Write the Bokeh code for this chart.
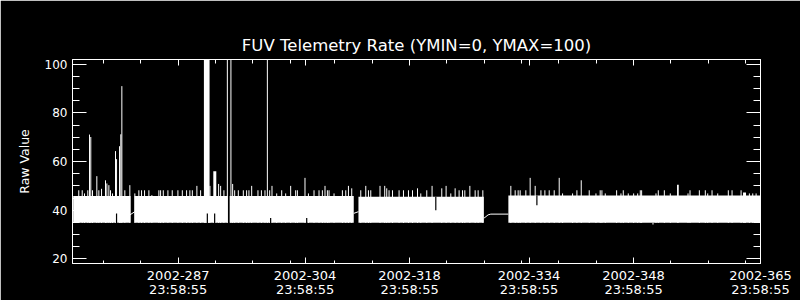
from bokeh.plotting import figure
from bokeh.models import Range1d, FixedTicker, LinearAxis
from bokeh.embed import file_html
from bokeh.resources import INLINE

# ---------------- data (x = day of year 2002, y = raw value) ----------------
BASE = 34.8

# continuous stretches of dense telemetry (filled band from BASE to plateau)
seg_start = [272.94, 281.16, 293.90, 311.15, 331.23]
seg_end = [280.63, 293.63, 310.52, 327.94, 365.00]
seg_top = [45.8, 45.8, 45.8, 45.5, 46.0]

# individual samples sticking out above the band
spike_day = [
    273.69, 274.15, 274.46, 274.90, 275.13, 275.30, 275.53, 276.11, 276.38, 276.74,
    277.27, 277.45, 277.72, 277.94, 278.21, 278.61, 278.75, 279.15, 279.32, 279.46,
    279.86, 280.53,
    281.20, 281.74, 282.10, 282.50, 283.08, 283.48, 284.42, 284.65, 285.01, 285.63,
    286.21, 286.97, 287.56, 288.13, 288.57, 288.90, 289.51, 290.01, 291.26, 292.42,
    292.69, 293.13, 293.59,
    294.07, 294.30, 294.57, 295.06, 295.73, 296.17, 296.48, 296.85, 297.69, 298.15,
    298.63, 298.95, 299.26, 299.57, 300.20, 300.87, 301.40, 302.07, 302.74, 302.97,
    303.99, 304.45, 305.20, 305.87, 306.32, 306.67, 306.99, 307.21, 307.88, 309.00,
    309.45, 309.81, 310.25,
    311.46, 312.13, 312.49, 312.80, 314.04, 314.67, 314.94, 315.25, 315.71, 316.59,
    317.18, 317.85, 318.39, 319.06, 319.50, 320.30, 321.01, 322.31, 322.89, 323.52,
    324.10, 324.63, 325.09, 325.40, 326.07, 326.78, 327.18, 327.81,
    331.56, 332.14, 332.54, 332.81, 333.57, 334.15, 334.82, 335.59, 336.12, 336.70,
    337.37, 338.04, 338.49, 339.83, 340.41, 340.99, 342.06, 342.96, 343.53, 343.76,
    344.21, 345.73, 346.31, 346.62, 347.29, 348.01, 348.55, 348.90, 349.08, 351.00,
    351.31, 352.12, 352.92, 355.29, 355.56, 356.81, 357.61, 357.93, 358.51, 359.27,
    360.69, 361.19, 362.40, 363.51, 363.96, 364.41,
]
spike_val = [
    48.2, 48.2, 46.9, 48.2, 71.1, 70.1, 48.2, 54.0, 48.2, 48.8,
    52.3, 51.0, 50.3, 48.2, 46.9, 64.3, 61.0, 66.3, 71.2, 91.0,
    48.2, 50.3,
    46.9, 48.2, 48.2, 48.2, 48.2, 46.2, 48.2, 48.2, 48.2, 48.2,
    48.2, 48.2, 48.2, 48.2, 48.2, 48.2, 50.0, 48.2, 50.0, 50.8,
    50.0, 48.2, 105.0,
    105.0, 50.8, 48.2, 48.2, 48.2, 48.2, 48.2, 50.0, 48.2, 48.2,
    48.2, 105.0, 48.2, 50.0, 46.9, 48.2, 46.9, 50.0, 48.2, 48.2,
    53.3, 46.9, 48.2, 48.2, 48.2, 50.0, 48.2, 48.2, 46.9, 48.2,
    48.2, 50.0, 49.0,
    48.2, 50.0, 48.2, 48.2, 50.0, 50.0, 49.0, 48.2, 48.2, 48.2,
    48.2, 48.2, 48.2, 49.0, 46.9, 48.2, 50.0, 49.0, 50.0, 46.9,
    49.0, 48.2, 48.2, 48.2, 50.0, 48.2, 48.2, 48.2,
    50.0, 48.2, 48.2, 48.2, 48.2, 53.3, 50.0, 48.2, 48.2, 48.2,
    48.2, 53.3, 46.9, 46.9, 48.2, 52.3, 48.2, 46.9, 48.2, 48.2,
    46.9, 48.2, 46.9, 48.2, 46.9, 46.9, 46.9, 48.2, 48.2, 46.9,
    48.2, 48.2, 46.9, 46.9, 48.2, 48.2, 48.2, 46.9, 48.2, 46.9,
    48.2, 48.2, 48.2, 46.9, 46.9, 46.9,
]

# wider runs of high samples
block_start = [290.45, 291.71, 353.82, 362.66]
block_end = [291.21, 292.11, 354.05, 363.06]
block_val = [105.0, 56.0, 50.5, 47.3]

# columns whose minimum stays above the band floor
low_day = [278.75, 290.91, 291.89, 299.39, 304.22]
low_val = [38.7, 38.7, 38.7, 36.8, 36.8]

# columns whose maximum drops well below the band top
dip_day = [321.51, 335.05]
dip_val = [40.0, 42.0]
dip_top = [45.5, 46.0]

# single sample below the floor
under_day = [350.60]
under_val = [34.1]

# sparse samples inside data gaps
gap1_day = [280.50, 281.20]
gap1_val = [38.0, 39.4]
gap2_day = [310.52, 311.15]
gap2_val = [38.7, 39.4]
gap3_day = [327.94, 328.08, 328.52, 328.88, 331.23]
gap3_val = [36.8, 37.0, 38.1, 38.4, 38.4]

# axes
x_major = [287, 304, 318, 334, 348, 365]
x_labels = ["2002-287\n23:58:55", "2002-304\n23:58:55", "2002-318\n23:58:55",
            "2002-334\n23:58:55", "2002-348\n23:58:55", "2002-365\n23:58:55"]
x_minor = [277, 282, 292, 297, 302, 308, 313, 323, 328, 333, 338, 343, 353, 358, 363]
y_major = [20, 40, 60, 80, 100]
y_minor = [25, 30, 35, 45, 50, 55, 65, 70, 75, 85, 90, 95]

FONT = "DejaVu Sans"

p = figure(width=800, height=300, output_backend="svg", toolbar_location=None,
           x_range=Range1d(272.85, 365.0), y_range=Range1d(18.1, 101.95),
           min_border_left=72, min_border_right=40, min_border_top=59, min_border_bottom=37,
           background_fill_color="black", border_fill_color="black",
           outline_line_color="white", outline_line_width=1,
           x_axis_location=None, y_axis_location=None)
p.grid.visible = False

p.title.text = "FUV Telemetry Rate (YMIN=0, YMAX=100)"
p.title.align = "center"
p.title.text_color = "white"
p.title.text_font = FONT
p.title.text_font_size = "16.5px"
p.title.text_font_style = "normal"

xt = FixedTicker(ticks=x_major, minor_ticks=x_minor)
yt = FixedTicker(ticks=y_major, minor_ticks=y_minor)


def style(ax, labels, mlen, nlen):
    ax.axis_line_color = "white"
    ax.major_tick_line_color = "white"
    ax.minor_tick_line_color = "white"
    ax.major_tick_in = mlen
    ax.major_tick_out = 0
    ax.minor_tick_in = nlen
    ax.minor_tick_out = 0
    ax.major_label_text_font = FONT
    if labels:
        ax.major_label_text_color = "white"
    else:
        ax.major_label_text_color = None
        ax.major_label_text_font_size = "0px"
        ax.major_label_standoff = 0


bx = LinearAxis(ticker=xt, major_label_overrides={k: v for k, v in zip(x_major, x_labels)})
style(bx, True, 6, 3)
bx.major_label_text_font_size = "13px"
bx.major_label_text_line_height = 0.95
bx.major_label_standoff = 4
p.add_layout(bx, "below")

tx = LinearAxis(ticker=xt)
style(tx, False, 6, 4)
p.add_layout(tx, "above")

ly = LinearAxis(ticker=yt, axis_label="Raw Value")
style(ly, True, 14, 7)
ly.major_label_text_font_size = "12px"
ly.axis_label_text_color = "white"
ly.axis_label_text_font = FONT
ly.axis_label_text_font_size = "12.5px"
ly.axis_label_text_font_style = "normal"
ly.axis_label_standoff = 10
p.add_layout(ly, "left")

ry = LinearAxis(ticker=yt)
style(ry, False, 14, 7)
p.add_layout(ry, "right")

# ---------------- marks ----------------
p.quad(left=seg_start, right=seg_end, bottom=BASE, top=seg_top,
       fill_color="white", line_color=None)
p.segment(x0=spike_day, x1=spike_day, y0=BASE, y1=spike_val,
          line_color="white", line_width=1)
p.quad(left=block_start, right=block_end, bottom=BASE, top=block_val,
       fill_color="white", line_color=None)
p.segment(x0=low_day, x1=low_day, y0=BASE - 0.3, y1=low_val,
          line_color="black", line_width=1.2)
p.segment(x0=dip_day, x1=dip_day, y0=dip_val, y1=dip_top,
          line_color="black", line_width=1.2)
p.segment(x0=under_day, x1=under_day, y0=under_val, y1=BASE,
          line_color="white", line_width=1)
for gx, gy in ((gap1_day, gap1_val), (gap2_day, gap2_val), (gap3_day, gap3_val)):
    p.line(gx, gy, line_color="white", line_width=1)

open("out.html", "w").write(file_html(p, INLINE))
